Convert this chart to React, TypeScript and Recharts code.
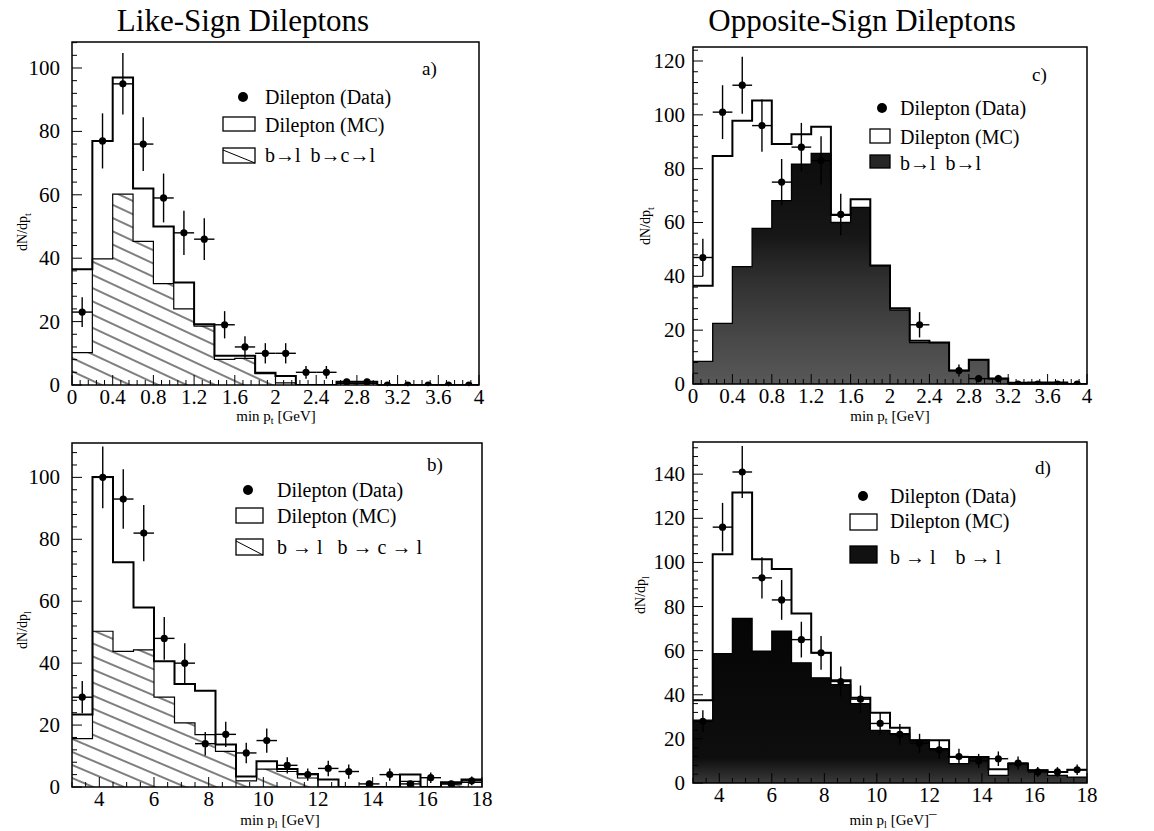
import React from 'react';
import { ComposedChart, Line, Area, Scatter, ErrorBar, XAxis, YAxis, ReferenceArea } from 'recharts';

const FONT = '"Liberation Serif", "Times New Roman", serif';

// ---------- bin edges ----------
const ptEdges = [0, 0.2, 0.4, 0.6, 0.8, 1.0, 1.2, 1.4, 1.6, 1.8, 2.0, 2.2, 2.4, 2.6, 2.8, 3.0, 3.2, 3.4, 3.6, 3.8, 4.0];
const plEdges = [3, 3.75, 4.5, 5.25, 6, 6.75, 7.5, 8.25, 9, 9.75, 10.5, 11.25, 12, 12.75, 13.5, 14.25, 15, 15.75, 16.5, 17.25, 18];

// ---------- panel a : like-sign, min pt ----------
const aMC = [36.5, 77, 97, 62, 50, 32.3, 19.2, 9.2, 9.2, 3.9, 2.8, 0, 0, 1, 1, 0, 0, 0, 0, 0];
const aBC = [10.2, 39.8, 60.2, 45.3, 32, 24, 18.6, 8.1, 8.4, 3.6, 0.7, 0, 0, 0.5, 0.5, 0, 0, 0, 0, 0];
const aX = [0.1, 0.3, 0.5, 0.7, 0.9, 1.1, 1.3, 1.5, 1.7, 1.9, 2.1, 2.3, 2.5, 2.7, 2.9, 3.1, 3.3, 3.5, 3.7, 3.9];
const aY = [23, 77, 95, 76, 59, 48, 46, 19, 12, 10, 10, 4, 4, 1, 1, 0, 0, 0, 0, 0];
const aErr = [4.7, 8.7, 9.7, 8.5, 7.7, 7, 6.6, 4.3, 3.4, 3.2, 3.2, 2, 2, 1, 1, 0.4, 0.4, 0.4, 0.4, 0.4];

// ---------- panel b : like-sign, min pl ----------
const bMC = [23.4, 100.1, 72.6, 58, 40.6, 33.3, 31.1, 13.7, 3.4, 8.3, 5.8, 4.2, 2.4, 0, 0, 0, 4, 0, 1.5, 2.4];
const bBC = [15.6, 50.3, 43.8, 44.3, 29, 20.7, 16.9, 11.5, 2, 5.8, 5, 2.9, 0, 0, 0, 0, 1.8, 0, 1, 1.5];
const bX = [3.375, 4.125, 4.875, 5.625, 6.375, 7.125, 7.875, 8.625, 9.375, 10.125, 10.875, 11.625, 12.375, 13.125, 13.875, 14.625, 15.375, 16.125, 16.875, 17.625];
const bY = [29, 100, 93, 82, 48, 40, 14, 17, 11, 15, 7, 4, 6, 5, 1, 4, 1, 3, 1, 2];
const bErr = [5.2, 10, 9.6, 9.1, 6.9, 6.4, 3.8, 4.1, 3.3, 3.9, 2.6, 2, 2.5, 2.3, 1, 2, 1, 1.7, 1, 1.4];

// ---------- panel c : opposite-sign, min pt ----------
const cMC = [36.5, 84.7, 97.8, 105.3, 89.2, 92.8, 95.6, 62.8, 68.6, 44, 28.1, 16.1, 15.4, 5, 9, 2, 0.5, 0.6, 0.6, 0];
const cBB = [8.4, 22.5, 43.6, 57.8, 68.1, 81.7, 85.7, 60, 65.6, 44, 27.5, 15.4, 15.4, 5, 9, 2, 0.5, 0.5, 0.5, 0];
const cX = [0.1, 0.3, 0.5, 0.7, 0.9, 1.1, 1.3, 1.5, 2.3, 2.7, 2.9, 3.1, 3.3, 3.5, 3.7, 3.9];
const cY = [47, 101, 111, 96, 75, 88, 83, 63, 22, 5, 2, 2, 0, 0, 0, 0];
const cErr = [7, 10, 10.6, 9.7, 8.6, 9, 9, 7.7, 4.7, 2.2, 1.4, 1.4, 0.4, 0.4, 0.4, 0.4];

// ---------- panel d : opposite-sign, min pl ----------
const dMC = [37.5, 103.7, 131.7, 101.4, 97, 76.9, 59, 46.6, 38.6, 31.8, 25, 19.4, 19.4, 11.8, 11.8, 6.2, 8.8, 5.8, 5, 6];
const dBB = [28.5, 58.7, 74.6, 59.8, 68.9, 54.5, 47.7, 44.6, 36, 23.9, 22.4, 19.4, 15.6, 8.8, 11.8, 3.5, 8.8, 5.8, 3.5, 2.7];
const dX = [3.375, 4.125, 4.875, 5.625, 6.375, 7.125, 7.875, 8.625, 9.375, 10.125, 10.875, 11.625, 12.375, 13.125, 13.875, 14.625, 15.375, 16.125, 16.875, 17.625];
const dY = [28, 116, 141, 93, 83, 65, 59, 46, 38, 27, 22, 18, 15, 12, 10, 11, 9, 5, 5, 6];
const dErr = [5, 11, 11.8, 9.3, 9, 8.1, 7.6, 6.8, 6.2, 5.2, 4.7, 4.3, 4, 3.5, 3.2, 3.3, 3, 2.2, 2.2, 2.4];

// ---------- helpers ----------
const stepData = (edges: number[], vals: number[]) =>
  edges.map((e, i) => ({ x: e, v: vals[Math.min(i, vals.length - 1)] }));
const pointData = (xs: number[], ys: number[], errs: number[], half: number) =>
  xs.map((x, i) => ({ x, y: ys[i], ey: errs[i], ex: half }));
const range = (a: number, b: number, s: number) => {
  const out: number[] = [];
  const n = Math.round((b - a) / s);
  for (let i = 0; i <= n; i++) out.push(Math.round((a + i * s) * 1000) / 1000);
  return out;
};
const isMult = (v: number, s: number) => Math.abs(v / s - Math.round(v / s)) < 1e-6;

const TICK_FS = 21;

const makeXTick = (majorStep: number, minLabel: number) => (props: any) => {
  const { x, y, payload } = props;
  const v = payload.value;
  const major = isMult(v, majorStep) && v >= minLabel;
  return (
    <g>
      <line x1={x} y1={y} x2={x} y2={y - (major ? 10 : 5)} stroke="#000" strokeWidth={1} />
      {major && (
        <text x={x} y={y + 19} textAnchor="middle" fontSize={TICK_FS} fontFamily={FONT} fill="#000">
          {String(Math.round(v * 10) / 10)}
        </text>
      )}
    </g>
  );
};

const makeYTick = (majorStep: number, gap: number) => (props: any) => {
  const { x, y, payload } = props;
  const v = payload.value;
  const major = isMult(v, majorStep);
  return (
    <g>
      <line x1={x} y1={y} x2={x + (major ? 10 : 5)} y2={y} stroke="#000" strokeWidth={1} />
      {major && (
        <text x={x - gap} y={y + 7} textAnchor="end" fontSize={TICK_FS} fontFamily={FONT} fill="#000">
          {v}
        </text>
      )}
    </g>
  );
};

const DataDot = (props: any) => {
  const { cx, cy } = props;
  if (cx == null || cy == null) return <g />;
  return <circle cx={cx} cy={cy} r={3.6} fill="#000" />;
};

type PanelProps = {
  left: number; top: number; width: number; height: number;
  pl: number; pt: number; pr: number; pb: number;
  xDomain: [number, number]; yMax: number;
  xTicks: number[]; xMajor: number; xMinLabel: number;
  yTicks: number[]; yGap: number;
  mc: any[]; bg: any[]; bgFill: string; bgStroke: number; defs: React.ReactNode; pts: any[];
};

function Panel(p: PanelProps) {
  return (
    <div style={{ position: 'absolute', left: p.left, top: p.top, width: p.width, height: p.height }}>
      <ComposedChart
        width={p.width}
        height={p.height}
        margin={{ top: p.pt, left: p.pl - 40, right: p.width - p.pr, bottom: p.height - p.pb - 30 }}
      >
        <defs>{p.defs}</defs>
        <XAxis
          type="number" dataKey="x" domain={p.xDomain} ticks={p.xTicks} interval={0}
          tick={makeXTick(p.xMajor, p.xMinLabel)} tickLine={false} axisLine={false}
          height={30} tickSize={0} tickMargin={0} allowDataOverflow
        />
        <YAxis
          type="number" domain={[0, p.yMax]} ticks={p.yTicks} interval={0}
          tick={makeYTick(20, p.yGap)} tickLine={false} axisLine={false}
          width={40} tickSize={0} tickMargin={0} allowDataOverflow
        />
        <Area
          data={p.bg} dataKey="v" type="stepAfter" fill={p.bgFill} fillOpacity={1}
          stroke="#000" strokeWidth={p.bgStroke} dot={false} activeDot={false} isAnimationActive={false}
        />
        <Line
          data={p.mc} dataKey="v" type="stepAfter" stroke="#000" strokeWidth={2}
          dot={false} activeDot={false} isAnimationActive={false}
        />
        <Scatter data={p.pts} dataKey="y" shape={DataDot} isAnimationActive={false}>
          <ErrorBar dataKey="ey" direction="y" width={0} stroke="#000" strokeWidth={1.4} />
          <ErrorBar dataKey="ex" direction="x" width={0} stroke="#000" strokeWidth={1.4} />
        </Scatter>
        <ReferenceArea
          x1={p.xDomain[0]} x2={p.xDomain[1]} y1={0} y2={p.yMax}
          fill="none" fillOpacity={0} stroke="#000" strokeWidth={1.5} ifOverflow="visible"
        />
      </ComposedChart>
    </div>
  );
}

const hatchDef = (id: string, gap: number, angle: number) => (
  <pattern id={id} patternUnits="userSpaceOnUse" width={40} height={gap} patternTransform={`rotate(${angle})`}>
    <line x1={0} y1={gap / 2} x2={40} y2={gap / 2} stroke="#000" strokeWidth={1} />
  </pattern>
);

const gradC = (
  <linearGradient id="darkC" x1="0" y1="0" x2="0" y2="1">
    <stop offset="0%" stopColor="#0c0c0c" />
    <stop offset="35%" stopColor="#161616" />
    <stop offset="55%" stopColor="#303030" />
    <stop offset="80%" stopColor="#484848" />
    <stop offset="100%" stopColor="#585858" />
  </linearGradient>
);
const gradD = (
  <linearGradient id="darkD" x1="0" y1="0" x2="0" y2="1">
    <stop offset="0%" stopColor="#050505" />
    <stop offset="85%" stopColor="#0e0e0e" />
    <stop offset="100%" stopColor="#3a3a3a" />
  </linearGradient>
);

function YTitle({ x, y, s }: { x: number; y: number; s: string }) {
  return (
    <text x={x} y={y} transform={`rotate(-90 ${x} ${y})`} textAnchor="middle" fontSize={14} fontFamily={FONT}>
      dN/dp<tspan dy={4} fontSize={10}>{s}</tspan>
    </text>
  );
}
function XTitle({ x, y, s, tail }: { x: number; y: number; s: string; tail?: string }) {
  return (
    <text x={x} y={y} textAnchor="middle" fontSize={15} fontFamily={FONT}>
      min p<tspan dy={3} fontSize={10}>{s}</tspan>
      <tspan dy={-3}>{' [GeV]' + (tail || '')}</tspan>
    </text>
  );
}

function LegendBlock(props: {
  dotX: number; textX: number; base: number[]; rect: [number, number]; mcY: [number, number]; bgY: [number, number];
  swatch: 'hatch' | 'dark'; dark?: string; label3: string;
}) {
  const { dotX, textX, base, rect, mcY, bgY, swatch, dark, label3 } = props;
  const ts = { fontSize: 20, fontFamily: FONT, whiteSpace: 'pre' as const };
  return (
    <g>
      <circle cx={dotX} cy={base[0] - 7} r={5} fill="#000" />
      <text x={textX} y={base[0]} style={ts}>Dilepton (Data)</text>
      <rect x={rect[0]} y={mcY[0]} width={rect[1] - rect[0]} height={mcY[1] - mcY[0]} fill="#fff" stroke="#000" strokeWidth={1.3} />
      <text x={textX} y={base[1]} style={ts}>Dilepton (MC)</text>
      {swatch === 'hatch' ? (
        <g>
          <rect x={rect[0]} y={bgY[0]} width={rect[1] - rect[0]} height={bgY[1] - bgY[0]} fill="#fff" stroke="#000" strokeWidth={1.3} />
          <line x1={rect[0]} y1={bgY[0] + 2} x2={rect[1]} y2={bgY[1]} stroke="#000" strokeWidth={1} />
        </g>
      ) : (
        <rect x={rect[0]} y={bgY[0]} width={rect[1] - rect[0]} height={bgY[1] - bgY[0]} fill={dark} stroke="#000" strokeWidth={1.3} />
      )}
      <text x={textX} y={base[2]} style={ts}>{label3}</text>
    </g>
  );
}

export default function App() {
  const xTicksPt = range(0, 4, 0.08);
  const xTicksPl = range(3, 18, 0.5);
  return (
    <div style={{ position: 'absolute', left: 0, top: 0, width: 1154, height: 831, background: '#fff', overflow: 'hidden' }}>
      <Panel
        left={0} top={0} width={500} height={420}
        pl={72} pt={42} pr={479} pb={385}
        xDomain={[0, 4]} yMax={108.2}
        xTicks={xTicksPt} xMajor={0.4} xMinLabel={0}
        yTicks={range(0, 108, 4)} yGap={12}
        mc={stepData(ptEdges, aMC)} bg={stepData(ptEdges, aBC)} bgFill="url(#hatchA)" bgStroke={1.2}
        defs={hatchDef('hatchA', 12, 25)} pts={pointData(aX, aY, aErr, 0.1)}
      />
      <Panel
        left={0} top={415} width={500} height={416}
        pl={72} pt={28} pr={482} pb={372}
        xDomain={[3, 18]} yMax={111.1}
        xTicks={xTicksPl} xMajor={2} xMinLabel={4}
        yTicks={range(0, 108, 4)} yGap={12}
        mc={stepData(plEdges, bMC)} bg={stepData(plEdges, bBC)} bgFill="url(#hatchB)" bgStroke={1.2}
        defs={hatchDef('hatchB', 12, 23)} pts={pointData(bX, bY, bErr, 0.375)}
      />
      <Panel
        left={580} top={0} width={574} height={420}
        pl={113} pt={47} pr={507} pb={384}
        xDomain={[0, 4]} yMax={125.2}
        xTicks={xTicksPt} xMajor={0.4} xMinLabel={0}
        yTicks={range(0, 124, 4)} yGap={8}
        mc={stepData(ptEdges, cMC)} bg={stepData(ptEdges, cBB)} bgFill="url(#darkC)" bgStroke={1.3}
        defs={gradC} pts={pointData(cX, cY, cErr, 0.1)}
      />
      <Panel
        left={580} top={415} width={574} height={416}
        pl={113} pt={27} pr={507} pb={368}
        xDomain={[3, 18]} yMax={154.6}
        xTicks={xTicksPl} xMajor={2} xMinLabel={4}
        yTicks={range(0, 152, 4)} yGap={8}
        mc={stepData(plEdges, dMC)} bg={stepData(plEdges, dBB)} bgFill="url(#darkD)" bgStroke={1.3}
        defs={gradD} pts={pointData(dX, dY, dErr, 0.375)}
      />
      <svg width={1154} height={831} style={{ position: 'absolute', left: 0, top: 0, pointerEvents: 'none' }}>
        <text x={243} y={31} textAnchor="middle" fontSize={31} fontFamily={FONT}>Like-Sign Dileptons</text>
        <text x={862} y={31} textAnchor="middle" fontSize={31} fontFamily={FONT}>Opposite-Sign Dileptons</text>

        <text x={422} y={75} fontSize={19} fontFamily={FONT}>a)</text>
        <text x={427} y={471} fontSize={19} fontFamily={FONT}>b)</text>
        <text x={1032} y={81} fontSize={19} fontFamily={FONT}>c)</text>
        <text x={1035} y={474} fontSize={19} fontFamily={FONT}>d)</text>

        <YTitle x={27} y={232} s="t" />
        <YTitle x={27} y={630} s="l" />
        <YTitle x={650} y={226} s="t" />
        <YTitle x={645} y={595} s="l" />

        <XTitle x={276} y={421} s="t" />
        <XTitle x={280} y={825} s="l" />
        <XTitle x={890} y={421} s="t" />
        <XTitle x={893} y={825} s="l" tail="¯" />

        <LegendBlock dotX={243} textX={265} base={[104, 132, 162]} rect={[223, 255]} mcY={[117, 131]} bgY={[148, 163]} swatch="hatch" label3="b→l  b→c→l" />
        <LegendBlock dotX={248} textX={277} base={[497, 523, 554]} rect={[236, 263]} mcY={[508, 523]} bgY={[539, 555]} swatch="hatch" label3="b → l   b → c → l" />
        <LegendBlock dotX={882} textX={900} base={[115, 144, 170]} rect={[870, 890]} mcY={[129, 143]} bgY={[155, 168]} swatch="dark" dark="#262626" label3="b→l  b→l" />
        <LegendBlock dotX={863} textX={890} base={[503, 528, 564]} rect={[850, 877]} mcY={[514, 530]} bgY={[546, 563]} swatch="dark" dark="#111" label3="b → l    b → l" />
      </svg>
    </div>
  );
}
